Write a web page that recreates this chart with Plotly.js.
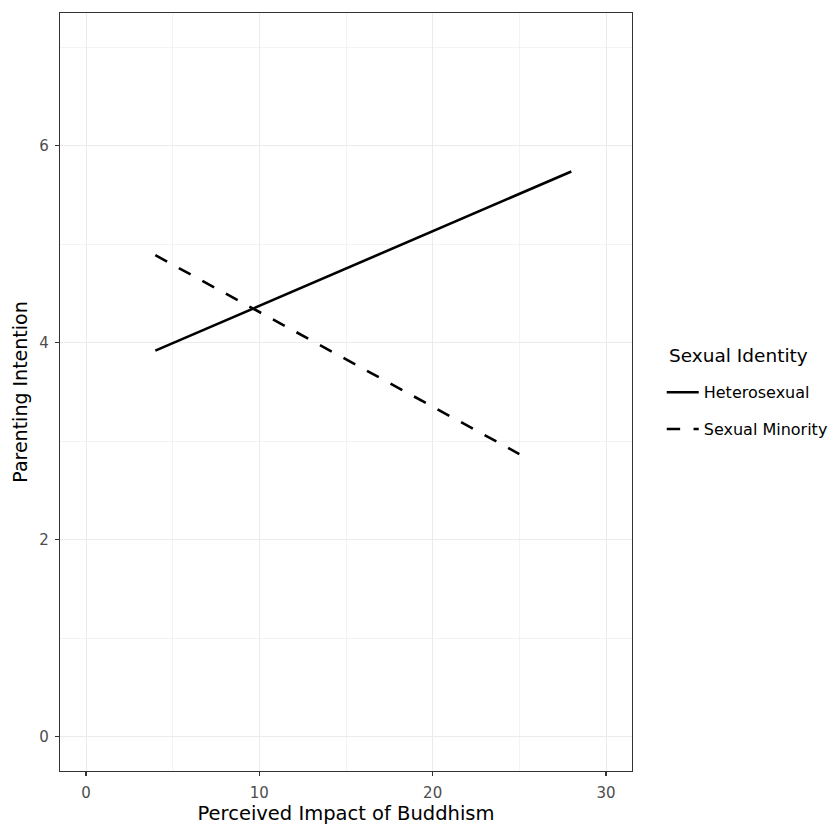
<!DOCTYPE html>
<html>
<head>
<meta charset="utf-8">
<script src="https://cdn.plot.ly/plotly-3.0.1.min.js"></script>
<style>html,body{margin:0;padding:0;background:#fff;}</style>
</head>
<body>
<div id="chart" style="width:840px;height:830px;"></div>
<script>
// Data
const seriesNames = ["Heterosexual", "Sexual Minority"];
const legendTitle = "Sexual Identity";
const heteroX = [4, 28];
const heteroY = [3.92, 5.74];
const minorityX = [4, 25];
const minorityY = [4.89, 2.87];
const xTickVals = [0, 10, 20, 30];
const xMinorVals = [5, 15, 25];
const yTickVals = [0, 2, 4, 6];
const yMinorVals = [1, 3, 5, 7];

const FONT = "DejaVu Sans, Liberation Sans, Arial, sans-serif";

const traces = [
  {
    x: heteroX, y: heteroY, type: "scatter", mode: "lines",
    name: seriesNames[0], legendgroup: "a",
    line: {color: "#000000", width: 2.6, dash: "solid"}
  },
  {
    x: minorityX, y: minorityY, type: "scatter", mode: "lines",
    name: seriesNames[1], legendgroup: "b",
    line: {color: "#000000", width: 2.6, dash: "13.4px,13.4px"}
  }
];

const layout = {
  width: 840, height: 830,
  margin: {l: 60, r: 208, t: 13, b: 59, pad: 0, autoexpand: false},
  paper_bgcolor: "#ffffff",
  plot_bgcolor: "#ffffff",
  font: {family: FONT, color: "#000000"},
  showlegend: true,
  xaxis: {
    range: [-1.5, 31.5],
    tickvals: xTickVals,
    ticktext: xTickVals.map(String),
    ticks: "outside", ticklen: 4, tickwidth: 1.1, tickcolor: "#333333",
    ticklabelstandoff: 4,
    tickfont: {family: FONT, size: 15, color: "#4d4d4d"},
    showline: true, linecolor: "#333333", linewidth: 1.1, mirror: true,
    showgrid: true, gridcolor: "#EBEBEB", gridwidth: 1,
    minor: {tickvals: xMinorVals, showgrid: true, gridcolor: "#EBEBEB", gridwidth: 0.6, ticks: ""},
    zeroline: false,
    title: {text: "Perceived Impact of Buddhism", font: {family: FONT, size: 19.5, color: "#000000"}, standoff: 5},
    automargin: false
  },
  yaxis: {
    range: [-0.35, 7.35],
    tickvals: yTickVals,
    ticktext: yTickVals.map(String),
    ticks: "outside", ticklen: 4, tickwidth: 1.1, tickcolor: "#333333",
    ticklabelstandoff: 3,
    tickfont: {family: FONT, size: 15, color: "#4d4d4d"},
    showline: true, linecolor: "#333333", linewidth: 1.1, mirror: true,
    showgrid: true, gridcolor: "#EBEBEB", gridwidth: 1,
    minor: {tickvals: yMinorVals, showgrid: true, gridcolor: "#EBEBEB", gridwidth: 0.6, ticks: ""},
    zeroline: false,
    title: {text: "Parenting Intention", font: {family: FONT, size: 19, color: "#000000"}, standoff: 6},
    automargin: false
  },
  legend: {
    x: 1.052, xanchor: "left",
    y: 0.522, yanchor: "top",
    bgcolor: "rgba(0,0,0,0)", borderwidth: 0,
    font: {family: FONT, size: 16, color: "#000000"},
    tracegroupgap: 13,
    itemwidth: 32
  },
  annotations: [{
    text: legendTitle, xref: "paper", yref: "paper",
    x: 1.061, xanchor: "left", y: 0.548, yanchor: "middle",
    showarrow: false, align: "left",
    font: {family: FONT, size: 18.5, color: "#000000"}
  }]
};

Plotly.newPlot("chart", traces, layout, {displayModeBar: false, staticPlot: true});
</script>
</body>
</html>
